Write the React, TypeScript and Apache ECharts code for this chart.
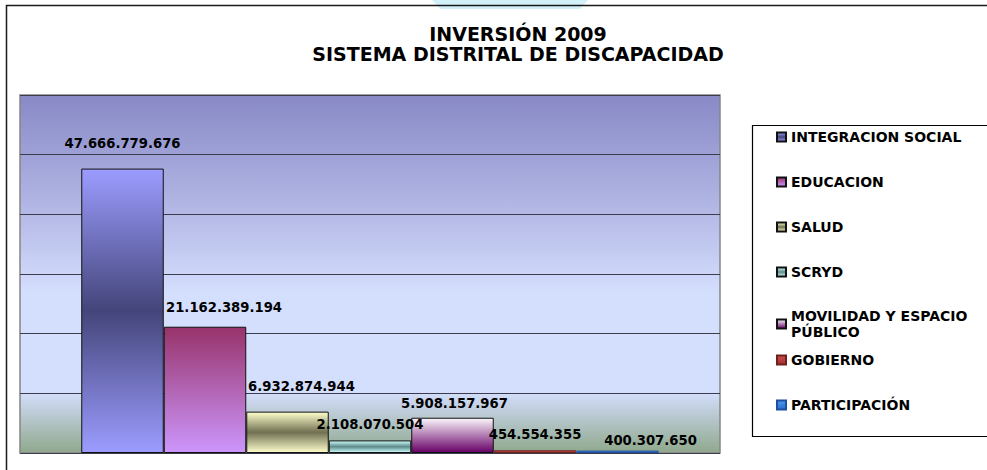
import React, { useEffect, useRef } from "react";
import * as echarts from "echarts";

// ---- data ----
const categories = ["2009"];
const seriesNames = [
  "INTEGRACION SOCIAL",
  "EDUCACION",
  "SALUD",
  "SCRYD",
  "MOVILIDAD Y ESPACIO PÚBLICO",
  "GOBIERNO",
  "PARTICIPACIÓN",
];
const seriesValues = [
  47666779676, 21162389194, 6932874944, 2108070504, 5908157967, 454554355, 400307650,
];
const yMin = 0;
const yMax = 60000000000;
const yInterval = 10000000000;

// ---- styles ----
const grad = (stops: [number, string][]) => ({
  type: "linear",
  x: 0,
  y: 0,
  x2: 0,
  y2: 1,
  colorStops: stops.map(([offset, color]) => ({ offset, color })),
});
const barFills = [
  grad([[0, "#9C9CFF"], [0.5, "#44457A"], [1, "#9C9CFF"]]),
  grad([[0, "#98336A"], [1, "#CC96FC"]]),
  grad([[0, "#FFFFCC"], [0.5, "#707052"], [1, "#FFFFCC"]]),
  grad([[0, "#CCFFFF"], [0.5, "#5E8A8A"], [1, "#CCFFFF"]]),
  grad([[0, "#FBF6FB"], [1, "#660066"]]),
  grad([[0, "#D0504C"], [1, "#A03030"]]),
  grad([[0, "#4C9CF4"], [1, "#2A6CC8"]]),
];
const barBorders = ["#111", "#111", "#111", "#111", "#111", "#6E2020", "#1E4E9E"];
const labelShift: [number, number][] = [
  [0, 19],
  [19, 13],
  [14, 19],
  [0, 9],
  [2, 8],
  [0, 9],
  [33, 4],
];
const legendTops = [129, 174, 219, 264, 308, 352, 397];

const FONT = "'DejaVu Sans', 'Liberation Sans', Arial, sans-serif";

const fmt = (v: number) =>
  String(Math.round(v)).replace(/\B(?=(\d{3})+(?!\d))/g, ".");

export default function App() {
  const ref = useRef<HTMLDivElement>(null);

  useEffect(() => {
    if (!ref.current) return;
    const chart = echarts.init(ref.current, undefined, { renderer: "svg" });

    const series = seriesNames.map((name, i) => ({
      name,
      type: "bar",
      data: [seriesValues[i]],
      barWidth: 82.5,
      barGap: "0%",
      itemStyle: { color: barFills[i], borderColor: barBorders[i], borderWidth: 1 },
      label: {
        show: true,
        position: "top",
        distance: labelShift[i][1],
        offset: [labelShift[i][0], 0],
        formatter: (p: any) => fmt(p.value),
        fontFamily: FONT,
        fontWeight: "bold",
        fontSize: 13.2,
        color: "#000",
      },
    }));

    const legends = seriesNames.map((name, i) => ({
      data: [name],
      orient: "vertical",
      left: 776,
      top: legendTops[i],
      padding: 0,
      icon: "rect",
      itemWidth: 9,
      itemHeight: 9,
      selectedMode: false,
      formatter: (n: string) =>
        n === "MOVILIDAD Y ESPACIO PÚBLICO" ? "MOVILIDAD Y ESPACIO\nPÚBLICO" : n,
      textStyle: {
        fontFamily: FONT,
        fontWeight: "bold",
        fontSize: 14,
        lineHeight: 16,
        color: "#000",
      },
    }));

    chart.setOption({
      animation: false,
      backgroundColor: "#fff",
      title: {
        text: "INVERSIÓN 2009\nSISTEMA DISTRITAL DE DISCAPACIDAD",
        left: 518,
        top: 24,
        padding: 0,
        textAlign: "center",
        textStyle: {
          fontFamily: FONT,
          fontWeight: "bold",
          fontSize: 19,
          lineHeight: 20,
          color: "#000",
        },
      },
      graphic: [
        {
          type: "polygon",
          z: -10,
          silent: true,
          shape: { points: [[432, 0], [588, 0], [580, 9], [440, 9]] },
          style: { fill: "#D3F1F9" },
        },
        {
          type: "rect",
          z: -5,
          silent: true,
          shape: { x: 6.5, y: 5.5, width: 1000, height: 500 },
          style: { fill: "none", stroke: "#1a1a1a", lineWidth: 1.5 },
        },
        {
          type: "rect",
          z: -5,
          silent: true,
          shape: { x: 752.5, y: 125.5, width: 300, height: 311 },
          style: { fill: "#fff", stroke: "#000", lineWidth: 1.2 },
        },
      ],
      legend: legends,
      grid: {
        left: 20,
        top: 95,
        width: 700,
        height: 358,
        show: true,
        borderColor: "#858585",
        borderWidth: 1.5,
        backgroundColor: grad([
          [0, "#8889C6"],
          [0.33, "#B4B9E6"],
          [0.55, "#D4DEFD"],
          [0.83, "#D4DEFD"],
          [1, "#8FA88C"],
        ]),
      },
      xAxis: {
        type: "category",
        data: categories,
        axisLine: { show: false },
        axisTick: { show: false },
        axisLabel: { show: false },
      },
      yAxis: {
        type: "value",
        min: yMin,
        max: yMax,
        interval: yInterval,
        axisLine: { show: false },
        axisTick: { show: false },
        axisLabel: { show: false },
        splitLine: { lineStyle: { color: "#3c3c4c", width: 1 } },
      },
      series,
    });

    return () => chart.dispose();
  }, []);

  return (
    <div
      ref={ref}
      style={{ position: "absolute", left: 0, top: 0, width: 987, height: 470 }}
    />
  );
}
